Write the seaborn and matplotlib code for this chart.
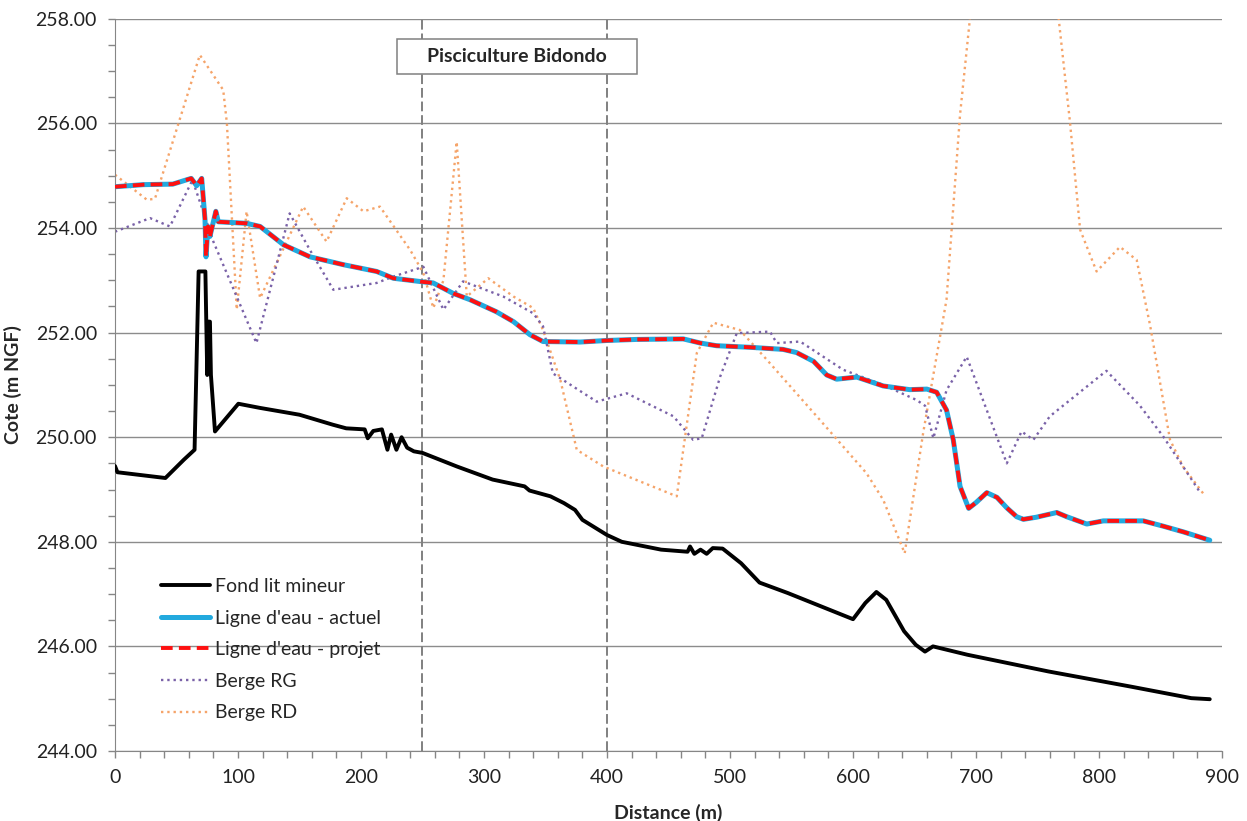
import numpy as np
import pandas as pd
import seaborn as sns
import matplotlib.pyplot as plt
from matplotlib.patches import Rectangle
from matplotlib.ticker import MultipleLocator, FormatStrFormatter

# profil en long
fond_x = [0, 2, 41, 56, 64.7, 68, 73.5, 75, 75.9, 77.2, 78, 81.3, 100.3, 118, 150, 177, 188, 203,
          205.5, 210, 217, 221.5, 224.5, 228.8, 233, 237.5, 243, 250, 278, 307, 333, 337, 354,
          365, 374, 380, 400, 412, 444, 465.5, 467.5, 471, 476, 481, 486, 494, 509, 524, 547,
          600, 610, 619, 627, 641.5, 651, 658.5, 665, 693, 759, 826, 875, 890]
fond_y = [249.45, 249.33, 249.22, 249.57, 249.76, 253.17, 253.17, 251.19, 252.21, 252.21, 251.19,
          250.11, 250.64, 250.56, 250.43, 250.24, 250.17, 250.15, 249.98, 250.12, 250.15, 249.76,
          250.05, 249.76, 250.0, 249.8, 249.73, 249.70, 249.44, 249.19, 249.06, 248.98, 248.87,
          248.74, 248.61, 248.42, 248.13, 248.0, 247.85, 247.81, 247.91, 247.77, 247.85, 247.77,
          247.88, 247.87, 247.59, 247.22, 247.02, 246.52, 246.83, 247.04, 246.89, 246.29, 246.03,
          245.90, 246.0, 245.84, 245.52, 245.23, 245.01, 244.99]

eau_x = [0, 23, 47, 62, 66.4, 70.5, 73.2, 74, 75.6, 77.2, 82, 84, 107, 118, 137, 158.5, 185.6,
         212.7, 226.3, 250.7, 258.7, 275, 288.6, 310, 324, 337.4, 348, 378, 400, 424, 462, 476,
         489, 516, 543, 554, 568, 578.6, 586.7, 603, 624.6, 646, 660, 668, 676, 681.5, 687, 694,
         700, 708.7, 717, 725, 733, 738.5, 749, 765.6, 773.7, 790, 803.5, 836, 852, 868.5, 890]
eau_actuel = [254.79, 254.83, 254.84, 254.95, 254.81, 254.95, 254.16, 253.45, 254.03, 253.84,
              254.32, 254.12, 254.09, 254.03, 253.68, 253.45, 253.30, 253.17, 253.04, 252.97,
              252.95, 252.75, 252.63, 252.40, 252.21, 251.96, 251.83, 251.82, 251.85, 251.87,
              251.88, 251.80, 251.75, 251.72, 251.68, 251.62, 251.45, 251.19, 251.11, 251.15,
              250.98, 250.91, 250.92, 250.86, 250.52, 249.95, 249.06, 248.64, 248.75, 248.94,
              248.85, 248.65, 248.48, 248.43, 248.47, 248.56, 248.48, 248.34, 248.40, 248.40,
              248.30, 248.19, 248.03]
eau_projet = list(eau_actuel)

rg_x = [0, 28.5, 44.7, 63, 80, 115, 142, 158.5, 177.5, 212.7, 226, 250.7, 267, 283, 315.7, 340,
        348, 356, 391.6, 416, 454, 470, 477, 492, 505.5, 532.5, 538, 557, 592, 624.6, 651.8,
        658.6, 665.3, 676, 692.4, 725, 737, 746.6, 760, 806, 833, 852, 882]
rg_y = [253.93, 254.19, 254.03, 254.92, 253.74, 251.80, 254.28, 253.58, 252.82, 252.95, 253.07,
        253.26, 252.44, 252.98, 252.69, 252.37, 252.12, 251.22, 250.68, 250.84, 250.40, 249.95,
        249.98, 251.16, 251.99, 252.02, 251.80, 251.83, 251.29, 251.0, 250.71, 250.6, 249.98,
        250.90, 251.54, 249.50, 250.11, 249.95, 250.40, 251.27, 250.61, 250.02, 248.95]

rd_x = [0, 26, 32.5, 69, 88, 91, 99, 107, 118, 153, 172, 188.4, 202, 215.4, 240, 250.7, 258.8,
        267, 277.8, 286, 303.5, 324, 340, 348, 362, 375.4, 397, 456.7, 473, 486.4, 508, 530,
        570.5, 611, 624.6, 642, 657, 676, 687, 730, 776.4, 784.6, 798, 817, 830.6, 841.5,
        857.7, 868.5, 884.8]
rd_y = [255.02, 254.54, 254.56, 257.31, 256.64, 256.0, 252.44, 254.32, 252.66, 254.41, 253.74,
        254.57, 254.32, 254.41, 253.58, 253.14, 252.47, 253.0, 255.65, 252.69, 253.04, 252.69,
        252.47, 252.05, 251.10, 249.76, 249.44, 248.87, 251.61, 252.19, 252.05, 251.48, 250.40,
        249.31, 248.80, 247.78, 250.08, 252.63, 256.17, 266.0, 256.02, 253.97, 253.17, 253.64,
        253.39, 252.14, 249.95, 249.43, 248.92]

zone_x = [250, 400]
zone_label = "Pisciculture Bidondo"

sns.set_style("white")
plt.rcParams['font.family'] = ['Lato', 'DejaVu Sans']

fig, ax = plt.subplots(figsize=(12.47, 8.21), dpi=100)
fig.subplots_adjust(left=0.0922, right=0.98, top=0.977, bottom=0.0853)

sns.lineplot(x=rd_x, y=rd_y, ax=ax, color='#F5A46A', lw=1.7, linestyle=':',
             label='Berge RD', sort=False, estimator=None, zorder=2)
sns.lineplot(x=rg_x, y=rg_y, ax=ax, color='#7A62A8', lw=1.7, linestyle=':',
             label='Berge RG', sort=False, estimator=None, zorder=2)
sns.lineplot(x=fond_x, y=fond_y, ax=ax, color='black', lw=2.8,
             label='Fond lit mineur', sort=False, estimator=None, zorder=3)
sns.lineplot(x=eau_x, y=eau_actuel, ax=ax, color='#22A9DE', lw=3.6,
             label="Ligne d'eau - actuel", sort=False, estimator=None, zorder=4)
sns.lineplot(x=eau_x, y=eau_projet, ax=ax, color='#FF1010', lw=2.8, linestyle=(0, (3, 1.6)),
             label="Ligne d'eau - projet", sort=False, estimator=None, zorder=5)

for xv in zone_x:
    ax.axvline(xv, color='#808080', lw=1.4, linestyle=(0, (5, 2)), zorder=1)
# cadre de l'etiquette
ax.add_patch(Rectangle((229, 256.95), 195, 0.67, fc='white', ec='#808080', lw=1.1, zorder=6))
ax.text(326.5, 257.29, zone_label, ha='center', va='center', fontsize=14,
        fontweight='bold', zorder=7)

ax.set_xlim(0, 900)
ax.set_ylim(244, 258)
ax.xaxis.set_major_locator(MultipleLocator(100))
ax.xaxis.set_minor_locator(MultipleLocator(20))
ax.yaxis.set_major_locator(MultipleLocator(2))
ax.yaxis.set_minor_locator(MultipleLocator(0.5))
ax.yaxis.set_major_formatter(FormatStrFormatter('%.2f'))
ax.grid(axis='y', color='#8c8c8c', lw=1)
ax.grid(axis='x', visible=False)
ax.set_axisbelow(True)

for s in ['top', 'right']:
    ax.spines[s].set_visible(False)
for s in ['left', 'bottom']:
    ax.spines[s].set_color('#868686')
ax.tick_params(which='both', direction='out', length=5, color='#868686', width=1)
ax.tick_params(axis='y', which='major', pad=8, labelsize=14, labelcolor='#222222')
ax.tick_params(axis='x', which='major', pad=8, labelsize=14, labelcolor='#222222')
ax.tick_params(left=True, bottom=True, which='both')

ax.set_xlabel('Distance (m)', fontsize=14, fontweight='bold', labelpad=13)
ax.set_ylabel('Cote (m NGF)', fontsize=14, fontweight='bold', labelpad=10)

handles, labels = ax.get_legend_handles_labels()
order = ['Fond lit mineur', "Ligne d'eau - actuel", "Ligne d'eau - projet", 'Berge RG', 'Berge RD']
hmap = dict(zip(labels, handles))
ax.legend([hmap[l] for l in order], order, loc='upper left', bbox_to_anchor=(0.026, 0.26),
          frameon=False, fontsize=14, handlelength=2.5, handletextpad=0.25, labelspacing=0.75)

fig.savefig('out.png', dpi=100)
